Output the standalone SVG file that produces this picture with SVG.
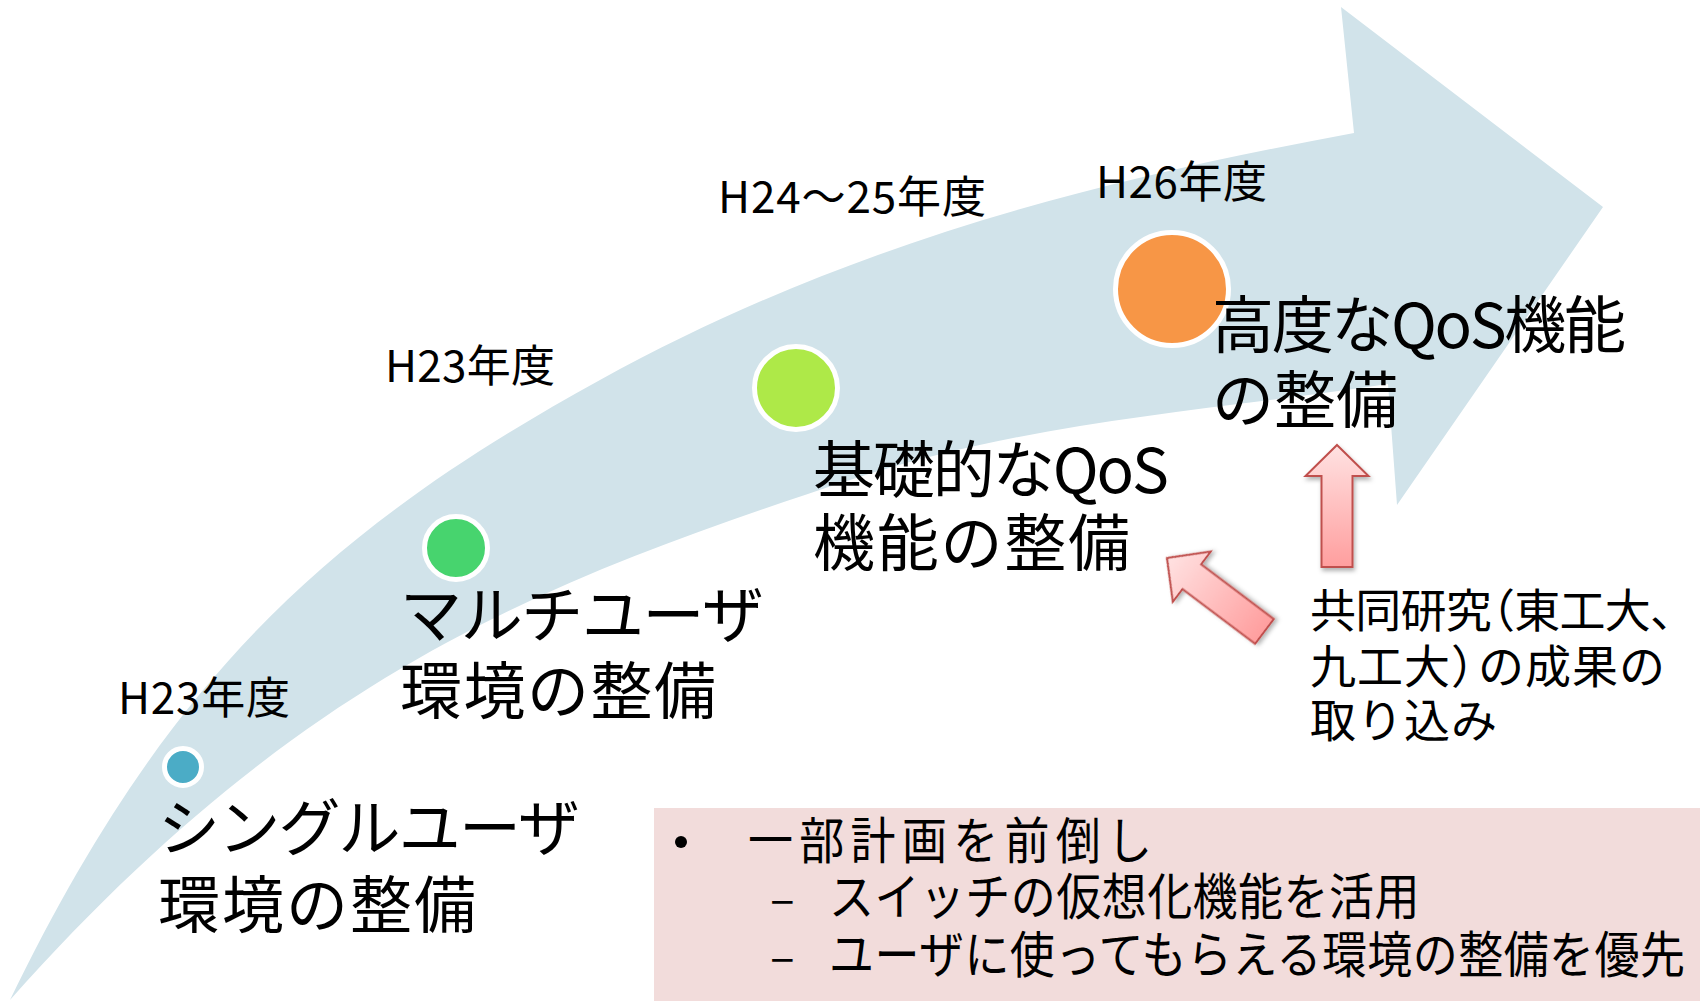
<svg xmlns="http://www.w3.org/2000/svg" width="1700" height="1001" viewBox="0 0 1700 1001">
<style>
.t{font-family:"Noto Sans CJK JP","Noto Sans",sans-serif;fill:#000}
.yr{font-size:44px}
.lg{font-size:62px}
.md{font-size:46px}
.bx{font-size:50px}
.dot{stroke:#fff;stroke-width:5}
.pk{fill:url(#pg);stroke:#C0504D;stroke-width:2;filter:url(#sh)}
</style>
<defs>
<linearGradient id="pg" x1="0" y1="0" x2="0" y2="122" gradientUnits="userSpaceOnUse">
<stop offset="0" stop-color="#FFE2E2"/>
<stop offset="1" stop-color="#FF9E9E"/>
</linearGradient>
<filter id="sh" x="-30%" y="-30%" width="160%" height="160%">
<feDropShadow dx="1.5" dy="3" stdDeviation="2" flood-color="#000" flood-opacity="0.3"/>
</filter>
<path id="pa" d="M0 0 L31.5 31 L15.5 31 L15.5 122 L-15.5 122 L-15.5 31 L-31.5 31 Z"/>
</defs>
<rect width="1700" height="1001" fill="#fff"/>
<g id="big-arrow">
<path d="M10 1000 C163 685 320 534 600 380 C850 242 1104 179 1354 133 L1341 7 L1603 207 L1397 505 L1388 384 C1208 411 1030 421 850 480 C550 579 303 670 10 1000 Z" fill="#D1E3EA"/>
</g>
<g id="pink-box">
<rect x="654" y="808" width="1046" height="193" fill="#F2DCDB"/>
<circle cx="681" cy="842" r="6" fill="#000"/>
<g transform="translate(748 859) scale(0.9 1)"><text class="t bx" x="0" y="0" textLength="449" lengthAdjust="spacing">一部計画を前倒し</text></g>
<text class="t md" x="770" y="915">–</text>
<g transform="translate(829 915) scale(0.9 1)"><text class="t bx" x="0" y="0" textLength="656" lengthAdjust="spacing">スイッチの仮想化機能を活用</text></g>
<text class="t md" x="770" y="973">–</text>
<g transform="translate(829 973) scale(0.9 1)"><text class="t bx" x="0" y="0" textLength="951" lengthAdjust="spacing">ユーザに使ってもらえる環境の整備を優先</text></g>
</g>
<g id="connectors">
<use href="#pa" class="pk" transform="translate(1337 445)"/>
<use href="#pa" class="pk" transform="translate(1167 558) rotate(-53)"/>
</g>
<g id="stage1">
<circle class="dot" cx="183" cy="767" r="18.5" fill="#4BACC6"/>
<text class="t yr" x="118" y="714" textLength="172" lengthAdjust="spacing">H23年度</text>
<text class="t lg" x="158" y="851" textLength="422" lengthAdjust="spacing">シングルユーザ</text>
<text class="t lg" x="158" y="928" textLength="318" lengthAdjust="spacing">環境の整備</text>
</g>
<g id="stage2">
<circle class="dot" cx="456" cy="548" r="31.5" fill="#47D46E"/>
<text class="t yr" x="385" y="382" textLength="170" lengthAdjust="spacing">H23年度</text>
<text class="t lg" x="400" y="638" textLength="364" lengthAdjust="spacing">マルチユーザ</text>
<text class="t lg" x="400" y="714" textLength="316" lengthAdjust="spacing">環境の整備</text>
</g>
<g id="stage3">
<circle class="dot" cx="796" cy="388" r="41.5" fill="#AEE948"/>
<text class="t yr" x="718" y="213" textLength="268" lengthAdjust="spacing">H24～25年度</text>
<text class="t lg" x="813" y="493" textLength="356" lengthAdjust="spacing">基礎的なQoS</text>
<text class="t lg" x="813" y="566" textLength="317" lengthAdjust="spacing">機能の整備</text>
</g>
<g id="stage4">
<circle class="dot" cx="1172" cy="289" r="56.5" fill="#F79646"/>
<text class="t yr" x="1096" y="198" textLength="171" lengthAdjust="spacing">H26年度</text>
<text class="t lg" x="1212" y="348" textLength="414" lengthAdjust="spacing">高度なQoS機能</text>
<text class="t lg" x="1212" y="423">の整備</text>
</g>
<g id="research-note">
<text class="t md" x="1310" y="627" textLength="386" lengthAdjust="spacing">共同研究<tspan dx="-22">（</tspan>東工大、</text>
<text class="t md" x="1310" y="683" letter-spacing="1">九工大）<tspan dx="-20">の成果の</tspan></text>
<text class="t md" x="1310" y="737" letter-spacing="1">取り込み</text>
</g>
</svg>
